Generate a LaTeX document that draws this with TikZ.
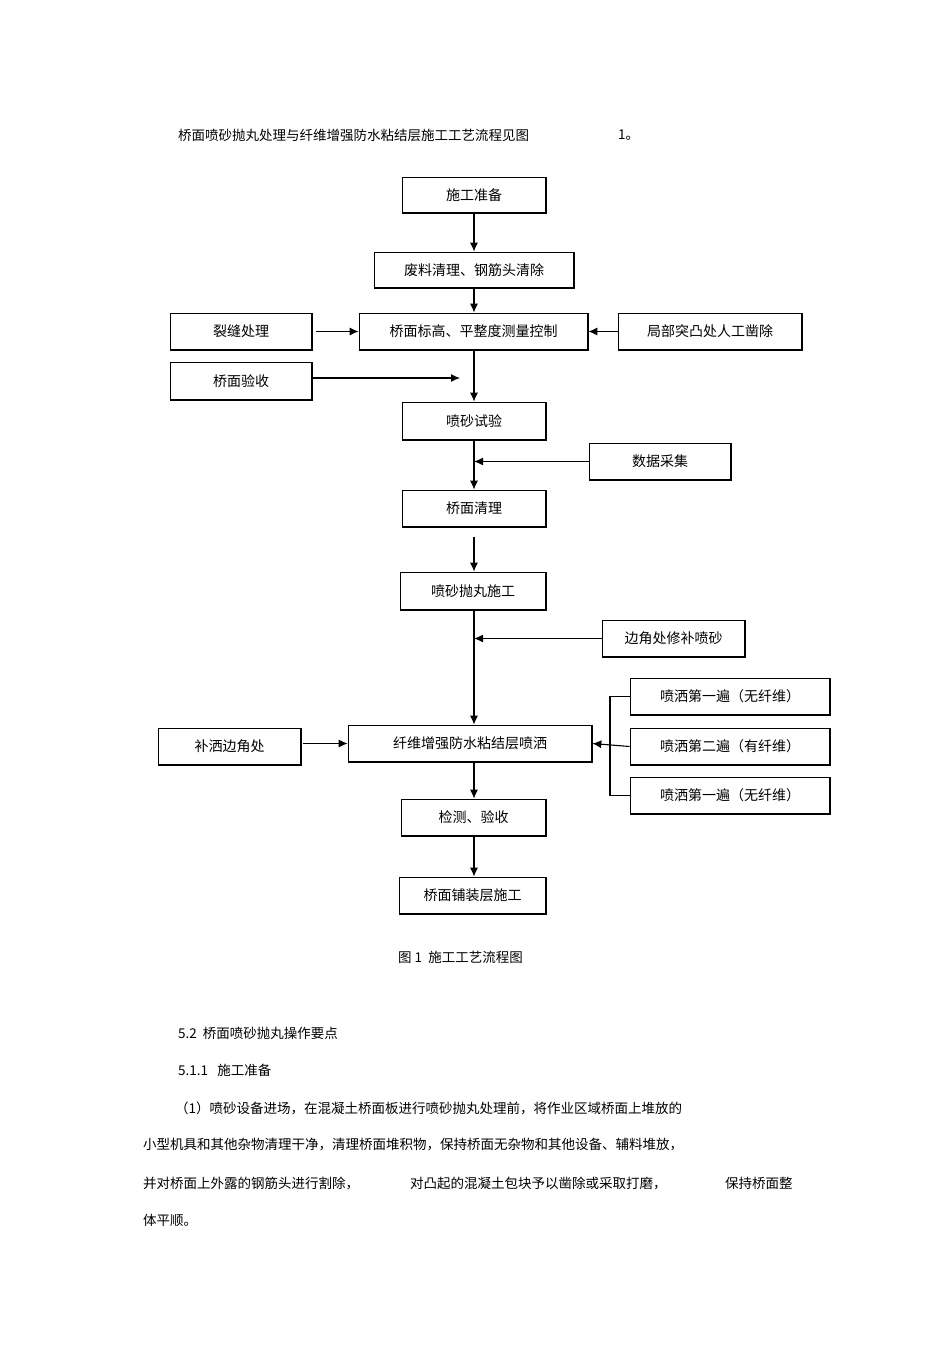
\documentclass[tikz,border=0pt]{standalone}
\usepackage{fontspec}
\setmainfont{Liberation Sans}
\newfontfamily\cjk{Noto Sans CJK SC}
\usetikzlibrary{arrows.meta}
\begin{document}
\begin{tikzpicture}[x=1pt,y=-1pt,
  bx/.style={draw,line width=0.7pt,font=\cjk\fontsize{14}{16}\selectfont,inner sep=0},
  ar/.style={line width=1.1pt,-{Latex[length=9pt,width=8pt]}},
  ln/.style={line width=1.1pt},
  tx/.style={anchor=west,font=\cjk\fontsize{13.5}{15}\selectfont,inner sep=0}]
\useasboundingbox (0,0) rectangle (950,1345);
\coordinate (sp) at (474,0);
\newcommand{\bx}[6]{\node[bx,minimum width={#4-#2},minimum height={#5-#3}] (#1) at ({(#2+#4)/2},{(#3+#5)/2}) {#6};
  \draw[line width=2.2pt] ([yshift=-0.5pt]#1.north east)--(#1.south east)--([xshift=0.5pt]#1.south west);}
\bx{a}{402}{177}{546}{213}{施工准备}
\bx{b}{374}{252}{574}{288}{废料清理、钢筋头清除}
\bx{c1}{170}{313}{312}{350}{裂缝处理}
\bx{c}{359}{313}{588}{350}{桥面标高、平整度测量控制}
\bx{c2}{618}{313}{802}{350}{局部突凸处人工凿除}
\bx{d1}{170}{362}{312}{400}{桥面验收}
\bx{d}{402}{402}{546}{440}{喷砂试验}
\bx{e1}{589}{443}{731}{480}{数据采集}
\bx{e}{402}{490}{546}{527}{桥面清理}
\bx{f}{400}{572}{546}{610}{喷砂抛丸施工}
\bx{f1}{602}{620}{745}{657}{边角处修补喷砂}
\bx{s1}{630}{678}{830}{715}{喷洒第一遍（无纤维）}
\bx{g}{348}{725}{592}{762}{纤维增强防水粘结层喷洒}
\bx{g1}{158}{728}{301}{765}{补洒边角处}
\bx{s2}{630}{728}{830}{765}{喷洒第二遍（有纤维）}
\bx{s3}{630}{777}{830}{814}{喷洒第一遍（无纤维）}
\bx{h}{401}{799}{546}{836}{检测、验收}
\bx{i}{399}{877}{546}{914}{桥面铺装层施工}
\coordinate (p1) at (460,378);
\coordinate (e0) at (474,537);
\coordinate (q) at (610,741);
\draw[ar] (a.south -| sp) -- (b.north -| sp);
\draw[ar] (b.south -| sp) -- (c.north -| sp);
\draw[ar] ([xshift=4pt]c1.east) -- (c.west);
\draw[ar] (c2.west) -- (c.east);
\draw[ar] (d1.east |- p1) -- (p1);
\draw[ar] (c.south -| sp) -- (d.north -| sp);
\draw[ar] (e1.west) -- (e1.west -| sp);
\draw[ar] (d.south -| sp) -- (e.north -| sp);
\draw[ar] (e0) -- (f.north -| sp);
\draw[ar] (f.south -| sp) -- (g.north -| sp);
\draw[ar] (f1.west) -- (f1.west -| sp);
\draw[ar] ([xshift=2pt]g1.east |- g.west) -- (g.west);
\draw[ar] (s2.west) -- (g.east);
\draw[ln] (s1.west) -| (q) |- (s3.west);
\draw[ar] (g.south -| sp) -- (h.north -| sp);
\draw[ar] (h.south -| sp) -- (i.north -| sp);
\node[tx] at (178,135) {桥面喷砂抛丸处理与纤维增强防水粘结层施工工艺流程见图};
\node[tx] at (618,135) {1。};
\node[tx] at (398,957) {图 1\ \ 施工工艺流程图};
\node[tx] at (178,1033) {5.2\ \ 桥面喷砂抛丸操作要点};
\node[tx] at (178,1070) {5.1.1\ \ \ 施工准备};
\node[tx] at (175,1108) {（1）喷砂设备进场，在混凝土桥面板进行喷砂抛丸处理前，将作业区域桥面上堆放的};
\node[tx] at (143,1145) {小型机具和其他杂物清理干净，清理桥面堆积物，保持桥面无杂物和其他设备、辅料堆放，};
\node[tx] at (143,1183) {并对桥面上外露的钢筋头进行割除，};
\node[tx] at (410,1183) {对凸起的混凝土包块予以凿除或采取打磨，};
\node[tx] at (725,1183) {保持桥面整};
\node[tx] at (143,1220) {体平顺。};
\end{tikzpicture}
\end{document}
